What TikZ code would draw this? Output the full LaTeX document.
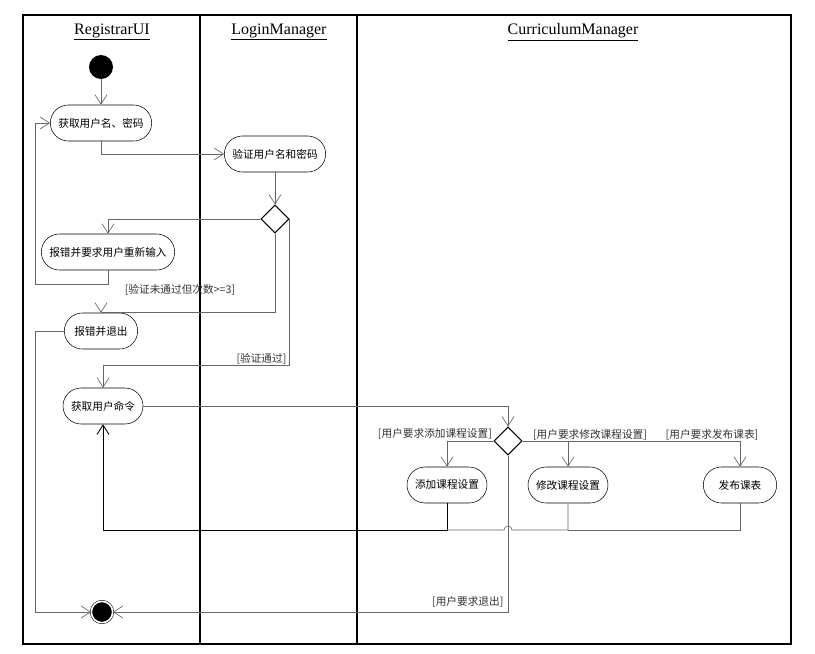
\documentclass[tikz,border=0pt]{standalone}
\usepackage{fontspec}
\setmainfont{Liberation Serif}
\newfontfamily\cjk{Noto Sans CJK SC}
\usetikzlibrary{arrows.meta,shapes.geometric}

\tikzset{
  lanetitle/.style={font=\fontsize{12}{14}\selectfont},
  activity/.style={draw, rounded corners=13.5pt, minimum height=27pt, minimum width=55pt,
    inner xsep=6pt, font=\cjk\fontsize{8}{10}\selectfont},
  decision/.style={draw, diamond, minimum width=21pt, minimum height=21pt, inner sep=0pt, line width=0.8pt},
  initial/.style={circle, fill=black, minimum size=18pt, inner sep=0pt},
  final/.style={circle, draw, fill=black, double=white, double distance=1.2pt, minimum size=16pt, inner sep=0pt},
  flow/.style={draw=black!60, line width=0.5pt},
  arr/.style={flow, -{Straight Barb[length=7pt,width=9pt]}},
  guard/.style={font=\cjk\fontsize{8}{10}\selectfont, inner sep=1pt, text=black!80}
}

\begin{document}
\begin{tikzpicture}[x=0.75pt,y=-0.75pt]
  \useasboundingbox (0,0) rectangle (815,654);

  \draw[line width=0.8pt] (23,15) rectangle (791,644);
  \draw[line width=1.4pt] (200,15) -- (200,644);
  \draw[line width=1pt] (357,15) -- (357,644);
  \node[lanetitle] (lane1) at (112,32) {\underline{RegistrarUI}};
  \node[lanetitle] (lane2) at (279,32) {\underline{LoginManager}};
  \node[lanetitle] (lane3) at (573,32) {\underline{CurriculumManager}};

  \node[initial] (start) at (101,67) {};
  \node[activity] (getlogin) at (101,123) {获取用户名、密码};
  \node[activity] (verify) at (275,154) {验证用户名和密码};
  \node[decision] (dec1) at (275,219) {};
  \node[activity] (retry) at (108,252) {报错并要求用户重新输入};
  \node[activity] (errquit) at (101,331) {报错并退出};
  \node[activity] (getcmd) at (103,406) {获取用户命令};
  \node[decision] (dec2) at (508,441) {};
  \node[activity] (add) at (447,485) {添加课程设置};
  \node[activity] (modify) at (568,485) {修改课程设置};
  \node[activity] (publish) at (740,485) {发布课表};
  \node[final] (end) at (102,612) {};

  \draw[arr] (start) -- (getlogin);
  \draw[arr] (getlogin.south) |- (verify.west);
  \draw[arr] (verify) -- (dec1);
  \draw[arr] (dec1.west) -| (retry.north);
  \draw[arr] (retry.south) |- (35,284) |- (getlogin.west);
  \draw[arr] (dec1.south) -- ++(0,79) -| (errquit.north);
  \node[guard] at (180,290) {[验证未通过但次数>=3]};
  \draw[arr] (errquit.west) -- (35,331) |- (end.west);
  \draw[arr] (dec1.east) -- (dec1.east |- 0,365) -| (getcmd.north);
  \node[guard, anchor=south east] at (288,366) {[验证通过]};

  \draw[arr] (getcmd.east) -| (dec2.north);
  \draw[arr] (dec2.west) -| (add.north);
  \draw[arr] (dec2.east) -| (publish.north);
  \draw[arr] (modify.north |- dec2.east) -- (modify.north);
  \node[guard, anchor=south east] at (dec2.west) {[用户要求添加课程设置]};
  \node[guard] at (590,435) {[用户要求修改课程设置]};
  \node[guard] at (712,435) {[用户要求发布课表]};

  \draw[arr, draw=black, line width=0.65pt] (add.south) -- (add.south |- 0,530) -| (getcmd.south);
  \draw[flow] (modify.south) |- (512,530) arc (0:-180:4) -- (add.south |- 0,530);
  \draw[flow] (publish.south) |- (modify.south |- 0,530);
  \draw[arr] (dec2.south) |- (end.east);
  \node[guard, anchor=south east] at (505,609) {[用户要求退出]};
\end{tikzpicture}
\end{document}
